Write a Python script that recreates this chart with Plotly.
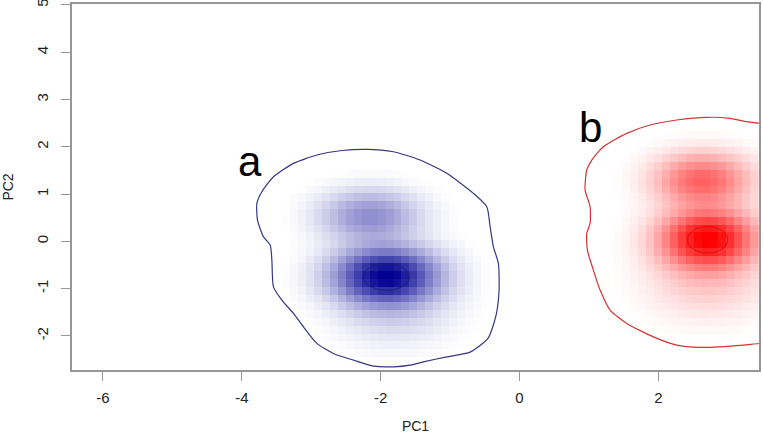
import numpy as np
import plotly.graph_objects as go

# density modes: centre (PC1, PC2), spread, relative weight
a_cx = [-1.92, -2.15, -1.80]
a_cy = [-0.74, 0.52, -1.45]
a_sx = [0.44, 0.42, 0.50]
a_sy = [0.36, 0.33, 0.45]
a_w = [1.0, 0.30, 0.08]

b_cx = [2.71, 2.64, 2.70]
b_cy = [0.05, 1.28, -0.75]
b_sx = [0.40, 0.40, 0.50]
b_sy = [0.37, 0.34, 0.50]
b_w = [1.0, 0.49, 0.12]

# colour intensity ~ density ** gamma
gamma = 0.65

# inner contour level (fraction of the peak density)
a_inner = 0.77
b_inner = 0.80

# outer contour
a_out_x = [-2.199, -1.816, -1.431, -1.047, -0.664, -0.471, -0.423, -0.376, -0.304, -0.294,
           -0.337, -0.452, -0.711, -1.047, -1.384, -1.575, -1.816, -2.104, -2.392, -2.680,
           -2.919, -3.112, -3.256, -3.423, -3.544, -3.567, -3.591, -3.688, -3.774, -3.783,
           -3.711, -3.544, -3.256, -2.919, -2.583, -2.199]
a_out_y = [1.947, 1.896, 1.720, 1.439, 1.016, 0.732, 0.309, -0.114, -0.466, -1.030,
           -1.559, -2.046, -2.342, -2.442, -2.548, -2.617, -2.653, -2.639, -2.512, -2.370,
           -2.158, -1.807, -1.523, -1.242, -0.961, -0.396, -0.078, 0.097, 0.451, 0.804,
           1.050, 1.367, 1.650, 1.826, 1.917, 1.947]

b_out_x = [3.60, 3.464, 3.273, 3.032, 2.697, 2.265, 1.880, 1.545, 1.208, 1.041, 0.969, 0.945,
           1.017, 1.017, 0.969, 0.978, 1.064, 1.161, 1.305, 1.545, 1.928, 2.265, 2.600,
           2.888, 3.224, 3.464, 3.60]
b_out_y = [2.51, 2.497, 2.531, 2.603, 2.624, 2.567, 2.461, 2.285, 2.002, 1.720, 1.509, 1.085,
           0.732, 0.381, 0.169, -0.184, -0.607, -1.030, -1.453, -1.735, -2.019, -2.194, -2.243,
           -2.230, -2.194, -2.158, -2.15]

labels = ["a", "b"]
label_x = [-3.88, 1.02]
label_y = [1.68, 2.40]

x_ticks = [-6, -4, -2, 0, 2]
y_ticks = [-2, -1, 0, 1, 2, 3, 4, 5]


def density(cx, cy, sx, sy, w, X, Y):
    z = np.zeros_like(X)
    for i in range(len(cx)):
        z += w[i] * np.exp(-0.5 * (((X - cx[i]) / sx[i]) ** 2 + ((Y - cy[i]) / sy[i]) ** 2))
    return z


fig = go.Figure()

# blocky smoothScatter-like images
for cx, cy, sx, sy, w, xr, yr, col in [
    (a_cx, a_cy, a_sx, a_sy, a_w, (-4.4, 0.4), (-2.7, 2.6), "rgb(0,0,145)"),
    (b_cx, b_cy, b_sx, b_sy, b_w, (0.5, 3.6), (-2.7, 3.0), "rgb(255,0,0)"),
]:
    gx = np.arange(xr[0], xr[1], 0.115)
    gy = np.arange(yr[0], yr[1], 0.165)
    X, Y = np.meshgrid(gx, gy)
    z = density(cx, cy, sx, sy, w, X, Y) ** gamma
    fig.add_trace(go.Heatmap(
        x=gx, y=gy, z=z,
        colorscale=[[0, "rgb(255,255,255)"], [0.02, "rgb(255,255,255)"], [1, col]],
        zmin=0, zmax=1, showscale=False, hoverinfo="skip",
    ))

# inner contour around the main peak
for cx, cy, sx, sy, w, lev, xr, yr, col in [
    (a_cx, a_cy, a_sx, a_sy, a_w, a_inner, (-2.8, -1.0), (-1.5, 0.0), "rgb(30,30,110)"),
    (b_cx, b_cy, b_sx, b_sy, b_w, b_inner, (2.0, 3.4), (-0.6, 0.7), "rgb(200,20,20)"),
]:
    fx = np.linspace(xr[0], xr[1], 200)
    fy = np.linspace(yr[0], yr[1], 200)
    X, Y = np.meshgrid(fx, fy)
    fig.add_trace(go.Contour(
        x=fx, y=fy, z=density(cx, cy, sx, sy, w, X, Y),
        contours=dict(start=lev, end=lev, size=0.5, coloring="none"),
        line=dict(color=col, width=1), showscale=False, hoverinfo="skip",
    ))

fig.add_trace(go.Scatter(x=a_out_x, y=a_out_y, mode="lines",
                         line=dict(color="rgb(55,55,130)", width=1.2, shape="spline", smoothing=0.6),
                         hoverinfo="skip"))
fig.add_trace(go.Scatter(x=b_out_x, y=b_out_y, mode="lines",
                         line=dict(color="rgb(215,50,50)", width=1.2, shape="spline", smoothing=0.6),
                         hoverinfo="skip"))

for t, x, y in zip(labels, label_x, label_y):
    fig.add_annotation(x=x, y=y, text=t, showarrow=False,
                       font=dict(size=42, color="black", family="Liberation Sans"))

axis_common = dict(
    showgrid=False, zeroline=False, showline=True, mirror=True, automargin=False,
    linecolor="rgb(150,150,150)", linewidth=1.5,
    ticks="outside", ticklen=9, tickcolor="rgb(150,150,150)",
    tickfont=dict(size=15, color="#222"), ticklabeloverflow="allow",
)

fig.update_layout(
    width=763, height=437,
    margin=dict(l=72, r=4, t=4, b=67),
    plot_bgcolor="white", paper_bgcolor="white",
    showlegend=False,
    font=dict(family="Liberation Sans", color="#222"),
    xaxis=dict(range=[-6.446, 3.45], tickvals=x_ticks, ticktext=[str(v) for v in x_ticks],
               title=dict(text="PC1", font=dict(size=14), standoff=16),
               ticklabelstandoff=4, **axis_common),
    yaxis=dict(range=[-2.72, 5.02], tickvals=y_ticks, ticktext=[str(v) for v in y_ticks],
               tickangle=-90,
               title=dict(text="PC2", font=dict(size=14), standoff=20),
               ticklabelstandoff=7, **axis_common),
)

fig.write_html("out.html", config={"displayModeBar": False},
               post_script="document.body.style.margin='0px';")
